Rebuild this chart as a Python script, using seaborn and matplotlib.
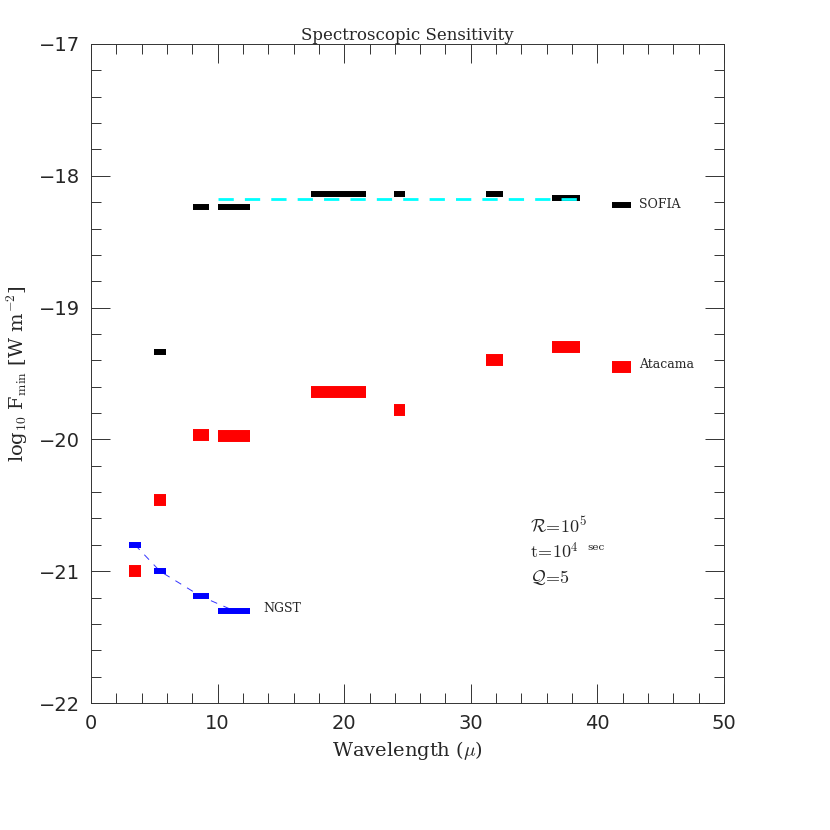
import numpy as np
import pandas as pnd
import matplotlib
matplotlib.use("Agg")
import matplotlib.pyplot as plt
from matplotlib.ticker import MultipleLocator
import seaborn as sns

## Data
# wavelength windows (micron), lower and upper edges
band_lo = [3.0, 4.95, 8.05, 10.05, 17.4, 23.96, 31.22, 36.44, 41.13]
band_hi = [3.95, 5.95, 9.3, 12.55, 21.75, 24.83, 32.53, 38.64, 42.64]

# log10 Fmin per window (None = no point)
sofia = [None, -19.34, -18.24, -18.24, -18.135, -18.135, -18.135, -18.165, -18.22]
atacama = [-21.0, -20.46, -19.965, -19.975, -19.643, -19.78, -19.40, -19.296, -19.45]
ngst = [-20.80, -21.00, -21.19, -21.30, None, None, None, None, None]

# cyan reference line
sofia_ref_x = [10.06, 38.55]
sofia_ref_y = [-18.175, -18.175]

sns.set_style("ticks")
plt.rcParams['font.family'] = ['DejaVu Serif', 'DejaVu Sans']
plt.rcParams['mathtext.fontset'] = 'cm'

fig = plt.figure(figsize=(8.3, 8.3), dpi=100)
ax = fig.add_axes([0.1096, 0.153, 0.7627, 0.794])

centers = [(a + b) / 2 for a, b in zip(band_lo, band_hi)]

# NGST dashed connector
df_ngst = pnd.DataFrame({'x': centers[:4], 'y': ngst[:4]})
sns.lineplot(data=df_ngst, x='x', y='y', ax=ax, color='blue', lw=0.7,
             linestyle=(0, (7, 7)), sort=False, alpha=0.8)

def bars(vals, color, lw):
    for lo, hi, v in zip(band_lo, band_hi, vals):
        if v is None:
            continue
        ax.hlines(v, lo, hi, colors=color, linewidth=lw, zorder=3)

bars(atacama, 'red', 8.6)
bars(sofia, 'black', 4.3)
bars(ngst, 'blue', 4.3)

# cyan dashed line, drawn over the black bars
sns.lineplot(x=sofia_ref_x, y=sofia_ref_y, ax=ax, color='cyan', lw=2,
             linestyle=(0, (5.5, 4)), zorder=5)

ax.text(43.3, -18.22, 'SOFIA', fontsize=9, va='center', ha='left')
ax.text(43.3, -19.43, 'Atacama', fontsize=9, va='center', ha='left')
ax.text(13.6, -21.28, 'NGST', fontsize=9, va='center', ha='left')

ax.text(34.7, -20.66, r'$\mathcal{R}\!=\!10^5$', fontsize=13, va='center')
ax.text(34.7, -20.855, r'$\mathrm{t}\!=\!10^{4}$', fontsize=13, va='center')
ax.text(39.2, -20.82, 'sec', fontsize=7.5, va='center')
ax.text(34.7, -21.05, r'$\mathcal{Q}\!=\!5$', fontsize=13, va='center')

ax.set_xlim(0, 50)
ax.set_ylim(-22, -17)
ax.xaxis.set_major_locator(MultipleLocator(10))
ax.xaxis.set_minor_locator(MultipleLocator(2))
ax.yaxis.set_major_locator(MultipleLocator(1))
ax.yaxis.set_minor_locator(MultipleLocator(0.2))
ax.tick_params(which='both', direction='in', top=True, right=True,
               width=0.7, color='#333333')
ax.tick_params(which='major', length=14, labelsize=14, pad=8)
ax.tick_params(which='minor', length=7)
for lab in ax.get_xticklabels() + ax.get_yticklabels():
    lab.set_family('DejaVu Sans')
for s in ax.spines.values():
    s.set_linewidth(0.7)
    s.set_color('#333333')

ax.set_title('Spectroscopic Sensitivity', fontsize=12, pad=2)
ax.set_xlabel(r'Wavelength ($\mu$)', fontsize=14, labelpad=4)
ax.set_ylabel(r'log$_{10}$ F$_{\rm min}$ [W m$^{-2}$]', fontsize=14, labelpad=6)

fig.savefig('out.png', dpi=100)
